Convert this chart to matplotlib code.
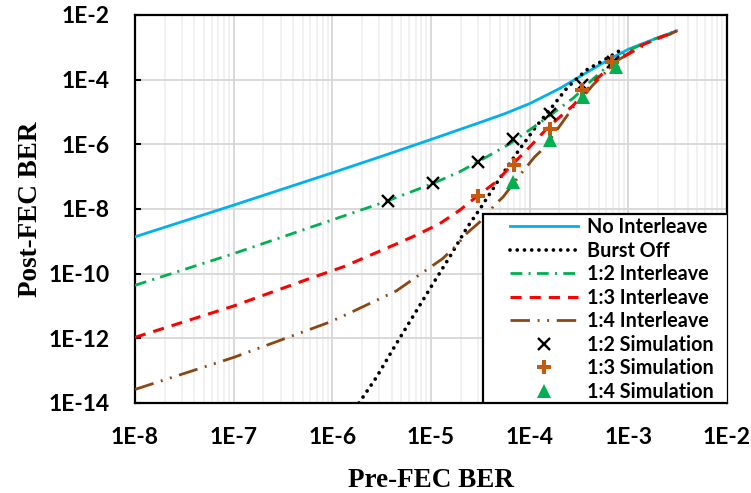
import numpy as np
import matplotlib
import matplotlib.pyplot as plt
from matplotlib.patches import Rectangle
from matplotlib.ticker import NullLocator, FixedLocator

matplotlib.rcParams['lines.scale_dashes'] = False

# Data (log10 of BER)
no_il_x = [-8, -7, -6, -5.5, -5, -4.5, -4.25, -4.0, -3.7, -3.4, -3.2, -3.0, -2.75, -2.51]
no_il_y = [-8.86, -7.88, -6.88, -6.37, -5.85, -5.32, -5.05, -4.74, -4.28, -3.74, -3.38, -3.06, -2.76, -2.49]

burst_off_x = [-5.73, -5.55, -5.38, -5.16, -4.99, -4.81, -4.64, -4.50, -4.32, -4.13,
               -3.93, -3.78, -3.62, -3.43, -3.21, -3.07]
burst_off_y = [-14.0, -13.19, -12.31, -11.21, -10.36, -9.48, -8.60, -7.98, -7.13, -6.27,
               -5.43, -4.87, -4.25, -3.71, -3.33, -3.07]

il12_x = [-8, -7, -6.3, -5.44, -4.98, -4.71, -4.5, -4.2, -3.98, -3.76, -3.55, -3.39,
          -3.2, -3.0, -2.75, -2.51]
il12_y = [-10.36, -9.38, -8.65, -7.75, -7.21, -6.85, -6.50, -5.98, -5.51, -5.03, -4.55, -4.07,
          -3.55, -3.10, -2.76, -2.49]

il13_x = [-8, -7, -6.23, -5.89, -5.38, -5.15, -4.91, -4.71, -4.53, -4.34, -4.2, -4.0,
          -3.81, -3.56, -3.32, -3.07, -2.87, -2.51]
il13_y = [-11.97, -11.0, -10.15, -9.79, -9.12, -8.81, -8.45, -8.04, -7.60, -7.16, -6.70, -6.08,
          -5.46, -4.80, -3.97, -3.33, -2.94, -2.49]

il14_x = [-8, -7, -6.02, -5.82, -5.55, -5.35, -5.11, -4.88, -4.74, -4.64, -4.505, -4.35,
          -4.27, -4.10, -3.95, -3.86, -3.69, -3.556, -3.49, -3.36, -3.10, -3.02, -2.72, -2.58, -2.51]
il14_y = [-13.58, -12.59, -11.49, -11.21, -10.82, -10.53, -10.02, -9.53, -9.12, -8.76, -8.40, -7.86,
          -7.63, -6.955, -6.39, -6.13, -5.41, -4.84, -4.64, -4.17, -3.38, -3.25, -2.73, -2.60, -2.49]

sim12_x = [-5.44, -4.98, -4.52, -4.17, -3.795, -3.465, -3.155]
sim12_y = [-7.74, -7.21, -6.55, -5.82, -5.05, -4.17, -3.45]
sim13_x = [-4.52, -4.16, -3.795, -3.465, -3.17]
sim13_y = [-7.60, -6.65, -5.54, -4.33, -3.45]
sim14_x = [-4.17, -3.795, -3.46, -3.13]
sim14_y = [-7.16, -5.87, -4.55, -3.61]

x_ticks = [1e-8, 1e-7, 1e-6, 1e-5, 1e-4, 1e-3, 1e-2]
x_tick_labels = ['1E-8', '1E-7', '1E-6', '1E-5', '1E-4', '1E-3', '1E-2']
y_ticks = [1e-14, 1e-12, 1e-10, 1e-8, 1e-6, 1e-4, 1e-2]
y_tick_labels = ['1E-14', '1E-12', '1E-10', '1E-8', '1E-6', '1E-4', '1E-2']


def p10(v):
    return np.power(10.0, np.array(v))


tick_font = 'Lato'

fig = plt.figure(figsize=(7.51, 4.93), dpi=100)
ax = fig.add_axes([135 / 751, 1 - 403 / 493, 592 / 751, 388 / 493])

ax.plot(p10(no_il_x), p10(no_il_y), color='#00B0F0', lw=2.0, label='No Interleave', zorder=3)
ax.plot(p10(burst_off_x), p10(burst_off_y), color='black', lw=2.7, linestyle=(0, (0.01, 5.2)),
        dash_capstyle='round', label='Burst Off', zorder=3)
ax.plot(p10(il12_x), p10(il12_y), color='#00B050', lw=2.0, linestyle=(0, (8.5, 4.5, 1.5, 4.5)),
        label='1:2 Interleave', zorder=3)
ax.plot(p10(il14_x), p10(il14_y), color='#8C4513', lw=2.0,
        linestyle=(0, (14, 5.5, 1.4, 5.5, 1.4, 5.5)), label='1:4 Interleave', zorder=3)
ax.plot(p10(il13_x), p10(il13_y), color='#FF0000', lw=2.2, linestyle=(0, (8, 5.8)),
        label='1:3 Interleave', zorder=3)

ax.plot(p10(sim12_x), p10(sim12_y), linestyle='none', marker='x', color='black', ms=8, mew=1.7,
        label='1:2 Simulation', zorder=4)
ax.plot(p10(sim13_x), p10(sim13_y), linestyle='none', marker='P', color='#C55A11', ms=10.5, mew=0,
        label='1:3 Simulation', zorder=4)
ax.plot(p10(sim14_x), p10(sim14_y), linestyle='none', marker='^', color='#00B050', ms=10, mew=0,
        label='1:4 Simulation', zorder=4)

ax.set_xscale('log')
ax.set_yscale('log')
ax.set_xlim(1e-8, 1e-2)
ax.set_ylim(1e-14, 1e-2)

ax.xaxis.set_major_locator(FixedLocator(x_ticks))
ax.set_xticklabels(x_tick_labels)
minor_x = [m * 10.0 ** e for e in range(-8, -2) for m in range(2, 10)]
ax.xaxis.set_minor_locator(FixedLocator(minor_x))
ax.yaxis.set_major_locator(FixedLocator(y_ticks))
ax.set_yticklabels(y_tick_labels)
ax.yaxis.set_minor_locator(NullLocator())

ax.grid(True, which='major', color='#D9D9D9', lw=1.4, zorder=0)
ax.grid(True, which='minor', axis='x', color='#EDEDED', lw=1.1, zorder=0)
ax.set_axisbelow(True)

ax.tick_params(axis='x', which='both', length=0, pad=17)
ax.tick_params(axis='y', which='major', direction='in', length=4, width=1.5, pad=18)
for lab in ax.get_xticklabels() + ax.get_yticklabels():
    lab.set_fontfamily(tick_font)
    lab.set_fontweight('bold')
    lab.set_fontsize(16.5)

for s in ax.spines.values():
    s.set_color('black')
    s.set_linewidth(1.6)

ax.set_xlabel('Pre-FEC BER', fontfamily='Liberation Serif', fontweight='bold', fontsize=19.5)
ax.set_ylabel('Post-FEC BER', fontfamily='Liberation Serif', fontweight='bold', fontsize=19.5)
ax.xaxis.set_label_coords(0.5, -0.168)
ax.yaxis.set_label_coords(-0.155, 0.5)

# legend frame + entries
frame = Rectangle(((483 - 135) / 592, 0), (728 - 483) / 592, (403 - 214) / 388,
                  transform=ax.transAxes, facecolor='white', edgecolor='black', lw=1.6, zorder=5)
ax.add_patch(frame)
handles, labels = ax.get_legend_handles_labels()
order = ['No Interleave', 'Burst Off', '1:2 Interleave', '1:3 Interleave', '1:4 Interleave',
         '1:2 Simulation', '1:3 Simulation', '1:4 Simulation']
hmap = dict(zip(labels, handles))
leg = ax.legend([hmap[k] for k in order], order, loc='upper left',
                bbox_to_anchor=((510 - 135) / 592, (403 - 217) / 388),
                frameon=False, borderpad=0, borderaxespad=0, handlelength=3.45,
                handletextpad=0.45, labelspacing=0.18, numpoints=1,
                prop={'family': tick_font, 'weight': 'bold', 'size': 14.2})
leg.set_zorder(6)

fig.savefig('out.png', dpi=100)
